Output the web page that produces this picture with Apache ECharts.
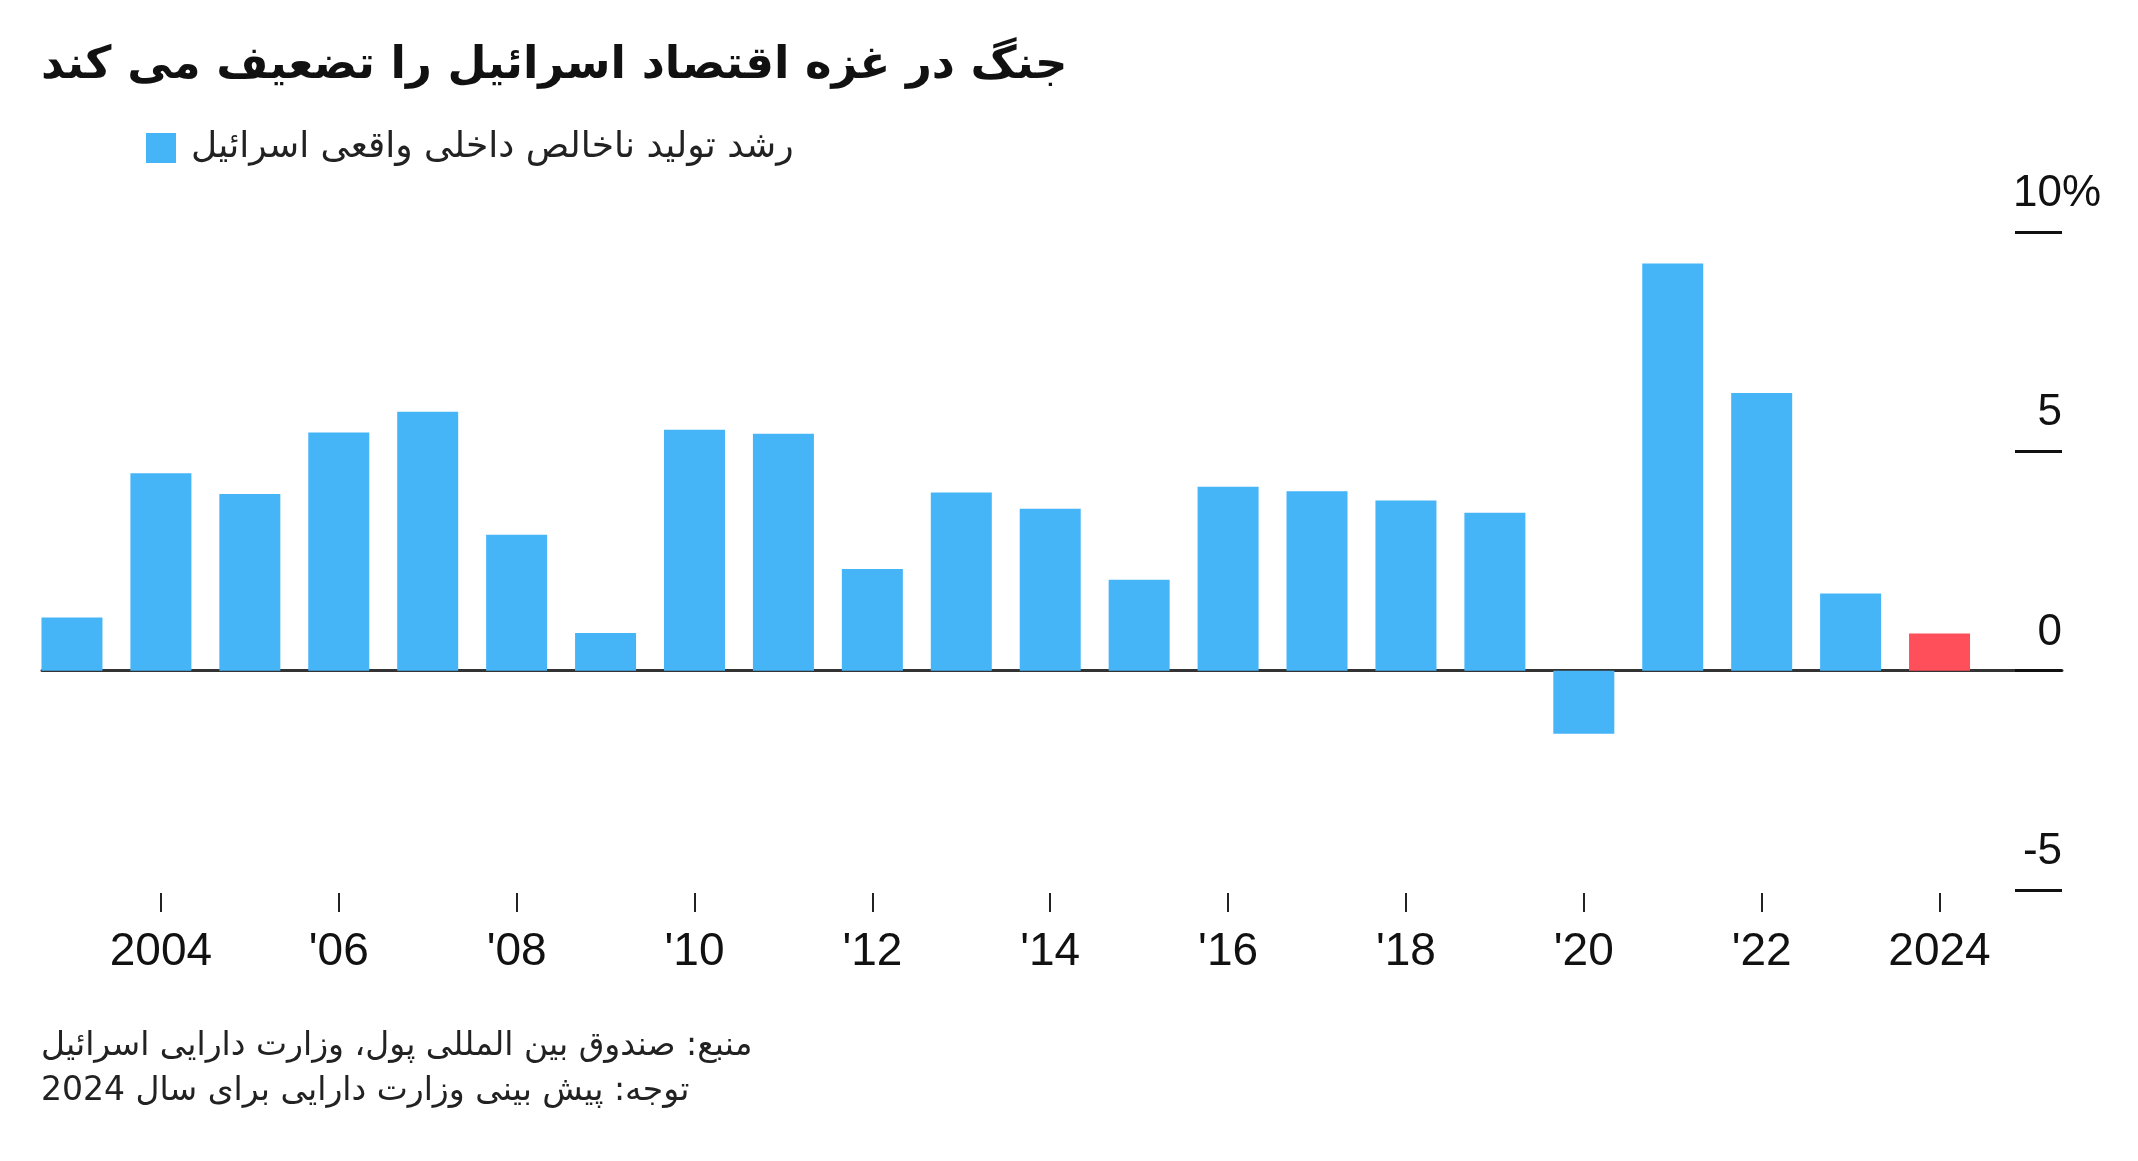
<!DOCTYPE html>
<html>
<head>
<meta charset="utf-8">
<script src="https://cdn.jsdelivr.net/npm/echarts@6/dist/echarts.min.js"></script>
<style>
html,body{margin:0;padding:0;background:#fff;}
#chart{width:2138px;height:1161px;}
</style>
</head>
<body>
<div id="chart"></div>
<script>
const titleText = 'جنگ در غزه اقتصاد اسرائیل را تضعیف می کند';
const seriesName = 'رشد تولید ناخالص داخلی واقعی اسرائیل';
const footerLines = [
  'منبع: صندوق بین المللی پول، وزارت دارایی اسرائیل',
  'توجه: پیش بینی وزارت دارایی برای سال 2024'
];
const years = [2003,2004,2005,2006,2007,2008,2009,2010,2011,2012,2013,2014,2015,2016,2017,2018,2019,2020,2021,2022,2023,2024];
const growth = [1.21,4.50,4.03,5.43,5.90,3.10,0.86,5.49,5.40,2.32,4.06,3.69,2.07,4.19,4.09,3.88,3.60,-1.44,9.28,6.33,1.76,0.85];
const forecastYears = [2024];
const xTickYears = [2004,2006,2008,2010,2012,2014,2016,2018,2020,2022,2024];
const fullYearLabels = [2004,2024];
const yTicks = {min:-5, max:10, interval:5};
const yUnit = '%';

const BLUE = '#46b5f8';
const RED = '#ff4f5a';
const NUM_FONT = '"Liberation Sans", Arial, Helvetica, sans-serif';
const AR_FONT = '"DejaVu Sans", "Noto Sans", sans-serif';
const rtl = s => '\u202B' + s + '\u202C';

const chart = echarts.init(document.getElementById('chart'), null, {renderer:'canvas'});
const xMin = 2002.663, xMax = 2025.377;

chart.setOption({
  animation:false,
  backgroundColor:'#fff',
  title:[
    {text: rtl(titleText), left:41, top:44, padding:0,
     textStyle:{fontFamily:AR_FONT, fontWeight:'bold', fontSize:45, color:'#111'}},
    {text: footerLines.map(rtl).join('\n'), left:41, top:1024, padding:0,
     textStyle:{fontFamily:AR_FONT, fontWeight:'normal', fontSize:33, lineHeight:45, color:'#222'}}
  ],
  legend:{
    left:146, top:130, padding:0, icon:'rect', itemWidth:30, itemHeight:30,
    data:[seriesName],
    textStyle:{fontFamily:AR_FONT, fontSize:36, color:'#222', padding:[0,0,0,10]},
    formatter: n => rtl(n)
  },
  grid:{left:42, right:76, top:232, bottom:271},
  xAxis:[
    {type:'value', min:xMin, max:xMax, position:'bottom',
     axisLine:{show:true, onZero:true, lineStyle:{color:'#333', width:3}},
     axisTick:{show:false}, axisLabel:{show:false}, splitLine:{show:false}},
    {type:'value', min:xMin, max:xMax, position:'bottom', offset:3,
     axisLine:{show:false, onZero:false},
     axisTick:{show:true, customValues:xTickYears, length:19, lineStyle:{color:'#222', width:2}},
     axisLabel:{show:true, customValues:xTickYears, margin:36,
       fontFamily:NUM_FONT, fontSize:46, color:'#111',
       formatter: v => fullYearLabels.includes(v) ? String(v) : "'" + String(v).slice(2)},
     splitLine:{show:false}}
  ],
  yAxis:{
    type:'value', position:'right', min:yTicks.min, max:yTicks.max, interval:yTicks.interval,
    name: yUnit, nameLocation:'end', nameGap:16, nameMoveOverlap:false,
    nameTextStyle:{fontFamily:NUM_FONT, fontSize:44, color:'#111', align:'left', verticalAlign:'bottom', padding:0},
    axisLine:{show:false},
    splitLine:{show:false},
    axisTick:{show:true, inside:true, length:47, lineStyle:{color:'#111', width:3}},
    axisLabel:{inside:true, margin:0, verticalAlign:'bottom', padding:[0,0,16,0],
      fontFamily:NUM_FONT, fontSize:44, color:'#111'}
  },
  series:[{
    name:seriesName, type:'bar', xAxisIndex:0, barWidth:61,
    itemStyle:{color:BLUE},
    data: years.map((y,i)=>({value:[y, growth[i]],
      itemStyle: forecastYears.includes(y) ? {color:RED} : {color:BLUE}}))
  }]
});
</script>
</body>
</html>
